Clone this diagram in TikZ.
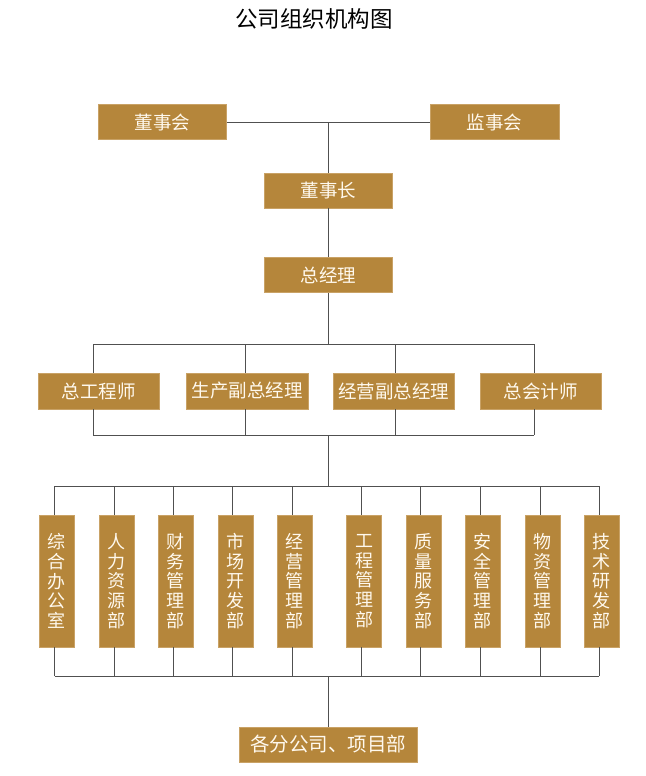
\documentclass[tikz,border=0pt]{standalone}
\usepackage{fontspec}
\newfontfamily\cjk{Noto Sans CJK SC}
\definecolor{boxc}{HTML}{B5863B}
\definecolor{boxedge}{HTML}{C9A266}
\definecolor{linec}{HTML}{505050}
\definecolor{txtc}{HTML}{FFF9EE}
\tikzset{
  box/.style={fill=boxc, draw=boxedge, line width=0.6pt, text=txtc, inner sep=0pt,
    font=\cjk\fontsize{18.5}{20}\selectfont},
  hbox/.style={box, minimum width=#1, minimum height=35pt},
  vbox/.style={box, minimum width=35pt, minimum height=132pt, align=center,
    font=\cjk\fontsize{18}{19.75}\selectfont},
  conn/.style={draw=linec, line width=1pt},
}
\begin{document}
\begin{tikzpicture}[x=1pt,y=-1pt]
\fill[white] (0,0) rectangle (645,776);
\useasboundingbox (0,0) rectangle (645,776);

\node[font=\cjk\fontsize{22.5}{24}\selectfont, text=black] (title) at (314,19) {公司组织机构图};

\node[hbox=128pt] (dsh) at (162.5,122) {董事会};
\node[hbox=129pt] (jsh) at (494.5,122) {监事会};
\node[hbox=128pt] (dsz) at (328.5,190.5) {董事长};
\node[hbox=128pt] (zjl) at (328.5,275) {总经理};

\node[hbox=121pt, minimum height=36pt] (r1) at (98.5,391) {总工程师};
\node[hbox=122pt, minimum height=36pt] (r2) at (247,391) {生产副总经理};
\node[hbox=121pt, minimum height=36pt] (r3) at (393.5,391) {经营副总经理};
\node[hbox=121pt, minimum height=36pt] (r4) at (540.5,391) {总会计师};

\node[hbox=178pt, font=\cjk\fontsize{19.5}{21}\selectfont] (fin) at (328,744.5) {各分公司、项目部};

\draw[conn] (dsh.east) -- (jsh.west);
\draw[conn] (dsz.north |- dsh.east) -- (dsz.north);
\draw[conn] (dsz.south) -- (zjl.north);

\foreach \i/\x in {1/93,2/245,3/395,4/534}{
  \coordinate (p\i) at (\x,344);
  \coordinate (q\i) at (\x,435);
  \draw[conn] (p\i) -- (p\i |- r\i.north);
  \draw[conn] (q\i |- r\i.south) -- (q\i);
}
\draw[conn] (p1) -- (p4);
\draw[conn] (q1) -- (q4);
\draw[conn] (zjl.south) -- (zjl.south |- p1);

\foreach \i/\cx/\lx/\t in {
  1/56.5/54.5/{综\\合\\办\\公\\室},
  2/116.5/114/{人\\力\\资\\源\\部},
  3/175.5/173.5/{财\\务\\管\\理\\部},
  4/235.5/232.5/{市\\场\\开\\发\\部},
  5/294.5/292/{经\\营\\管\\理\\部},
  6/364/361/{工\\程\\管\\理\\部},
  7/423.5/420.5/{质\\量\\服\\务\\部},
  8/482.5/480/{安\\全\\管\\理\\部},
  9/542.5/540/{物\\资\\管\\理\\部},
  10/601.5/599/{技\\术\\研\\发\\部}}{
  \node[vbox] (d\i) at (\cx,581) {\t};
  \coordinate (t\i) at (\lx,486);
  \coordinate (u\i) at (\lx,676);
  \draw[conn] (t\i) -- (t\i |- d\i.north);
  \draw[conn] (u\i |- d\i.south) -- (u\i);
}
\draw[conn] (t1) -- (t10);
\draw[conn] (u1) -- (u10);

\coordinate (m1) at (328,435);
\draw[conn] (m1) -- (m1 |- t1);
\draw[conn] (fin.north |- u1) -- (fin.north);
\end{tikzpicture}
\end{document}
